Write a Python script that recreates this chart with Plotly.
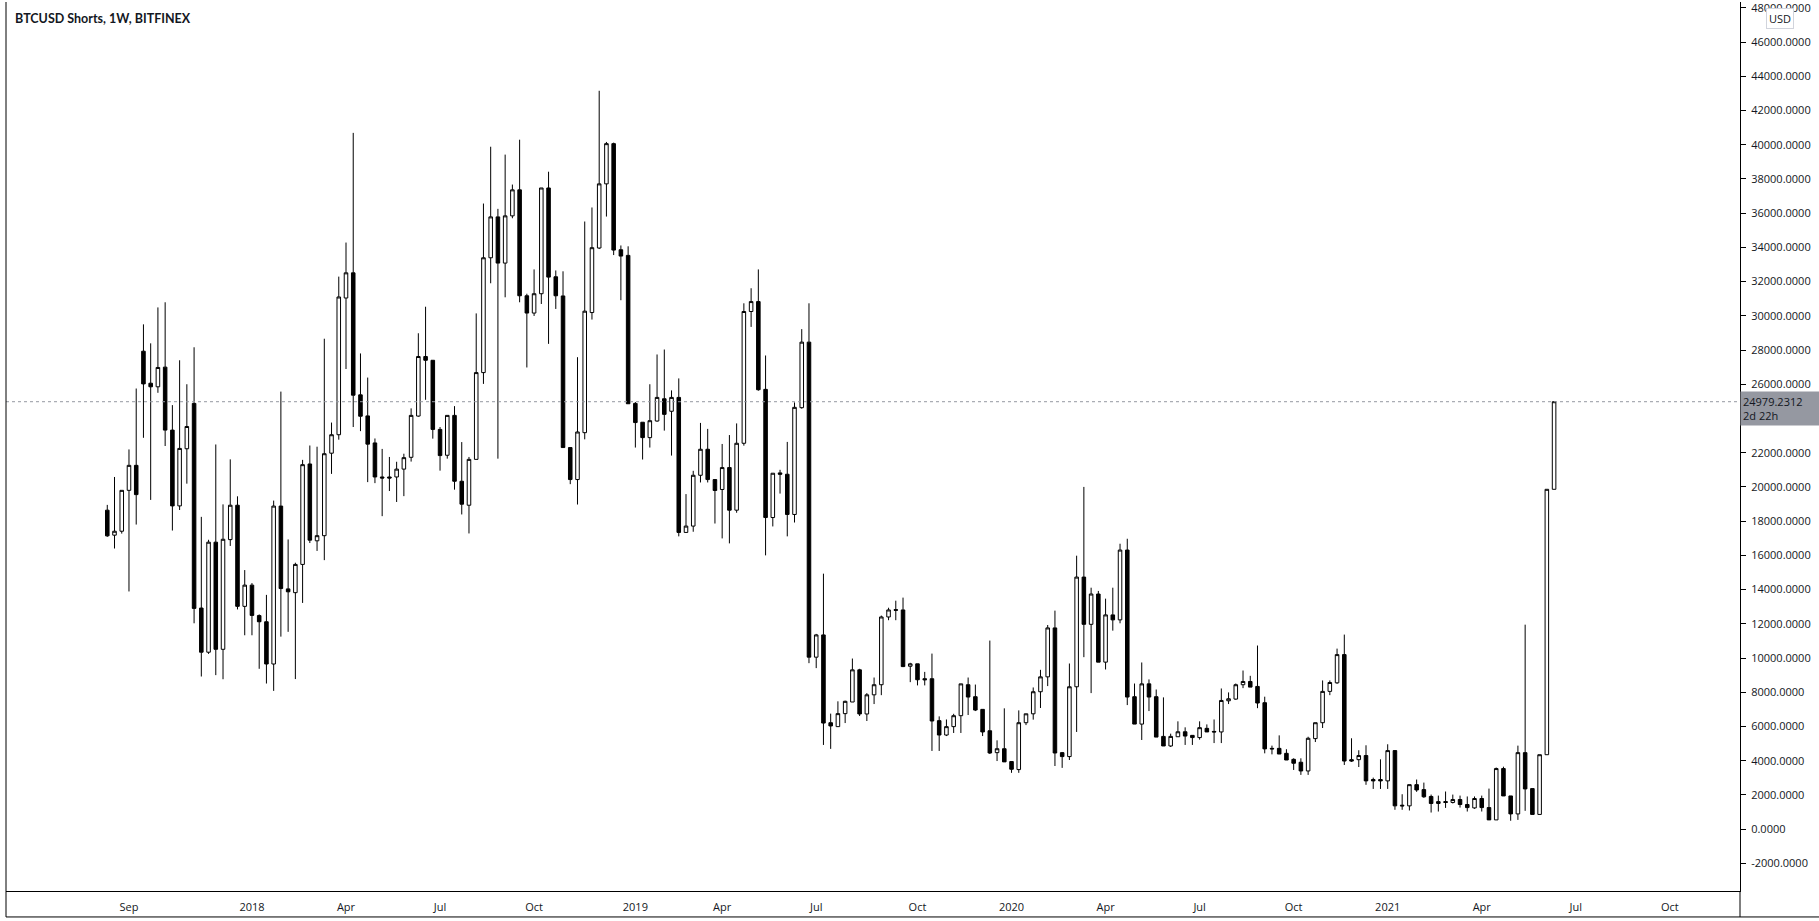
import plotly.graph_objects as go
import pandas as pd

# Weekly OHLC of BTCUSD shorts (values in thousands)
open_k = [18.64, 17.18, 17.41, 19.80, 21.26, 27.93, 26.06, 25.85, 27.00, 23.32,
          18.89, 22.23, 24.88, 12.92, 10.34, 16.77, 10.51, 16.92, 18.93, 13.02,
          14.26, 12.48, 12.12, 9.65, 18.88, 14.04, 13.82, 15.47, 21.34, 16.85,
          17.15, 21.97, 23.05, 31.04, 32.51, 25.38, 24.15, 22.57, 20.58, 20.58,
          20.58, 21.04, 21.73, 24.14, 27.62, 27.40, 23.36, 21.85, 24.18, 20.33,
          18.93, 21.61, 26.68, 33.39, 35.78, 33.08, 35.84, 37.36, 31.17, 30.16,
          31.29, 37.47, 32.28, 31.16, 22.30, 20.43, 23.17, 30.19, 33.96, 37.71,
          40.06, 33.86, 33.53, 24.88, 23.78, 22.88, 23.85, 25.15, 24.42, 25.23,
          17.34, 17.71, 20.68, 22.20, 20.43, 19.85, 21.13, 18.64, 22.55, 30.25,
          30.83, 25.70, 18.21, 20.82, 20.74, 18.39, 24.63, 28.46, 10.05, 11.35,
          6.22, 5.99, 6.75, 7.43, 9.31, 6.73, 7.85, 8.44, 12.40, 12.83,
          12.81, 9.52, 9.66, 8.79, 8.79, 6.34, 5.50, 5.99, 6.63, 8.44,
          7.74, 7.00, 5.75, 4.47, 4.70, 3.95, 3.48, 6.22, 6.74, 8.03,
          8.90, 11.76, 4.47, 4.24, 8.32, 14.73, 11.97, 13.74, 9.76, 12.52,
          12.23, 16.31, 7.74, 6.14, 8.49, 7.74, 5.42, 4.86, 5.40, 5.69,
          5.48, 5.35, 5.89, 5.71, 5.68, 7.50, 7.60, 8.44, 8.63, 8.34,
          7.39, 4.72, 4.72, 4.43, 4.08, 3.91, 3.40, 5.29, 6.22, 8.05,
          8.55, 10.20, 4.06, 4.06, 4.30, 2.90, 2.90, 2.82, 4.59, 1.40,
          1.36, 2.60, 2.31, 1.91, 1.50, 1.61, 1.56, 1.73, 1.44, 1.24,
          1.79, 1.26, 0.54, 3.54, 1.94, 0.89, 4.47, 2.37, 0.86, 4.35,
          19.86]
high_k = [18.95, 20.58, 19.80, 22.19, 25.75, 29.50, 28.39, 30.49, 30.79, 24.78,
          27.40, 26.00, 28.16, 18.25, 16.91, 22.48, 18.98, 21.61, 19.45, 15.14,
          14.38, 12.55, 13.69, 19.20, 25.57, 16.93, 15.57, 21.58, 22.42, 22.35,
          28.66, 23.76, 32.29, 34.28, 40.69, 27.80, 26.39, 22.83, 22.22, 21.75,
          21.47, 21.94, 24.59, 28.98, 30.53, 27.40, 23.50, 24.18, 24.72, 22.62,
          21.75, 30.14, 36.56, 39.88, 36.25, 39.42, 37.67, 40.29, 31.29, 32.71,
          37.47, 38.42, 32.65, 32.60, 22.30, 27.58, 35.51, 36.33, 43.15, 40.16,
          40.12, 34.11, 34.06, 24.96, 23.78, 26.00, 27.74, 28.03, 25.64, 26.34,
          19.58, 20.94, 23.74, 23.39, 20.43, 22.51, 23.03, 23.71, 30.73, 31.61,
          32.71, 27.68, 20.80, 21.00, 22.63, 24.94, 29.22, 30.73, 11.41, 14.93,
          6.75, 7.47, 7.51, 9.97, 9.37, 7.95, 8.86, 12.48, 12.94, 13.35,
          13.53, 9.72, 9.66, 9.19, 10.26, 6.59, 6.41, 6.74, 8.49, 8.86,
          8.45, 7.00, 11.02, 5.19, 7.06, 3.95, 6.94, 6.74, 8.28, 9.31,
          11.93, 12.77, 4.51, 9.68, 15.98, 20.00, 14.11, 13.92, 13.47, 14.11,
          16.68, 16.97, 8.51, 9.74, 8.75, 8.16, 7.70, 5.58, 6.30, 5.95,
          5.48, 6.30, 6.12, 6.41, 8.22, 7.99, 8.51, 9.27, 8.96, 10.73,
          7.74, 4.88, 5.48, 4.67, 4.14, 4.14, 5.40, 6.22, 8.69, 8.69,
          10.55, 11.37, 5.31, 4.61, 4.90, 3.01, 4.08, 4.96, 4.59, 2.04,
          2.60, 2.90, 2.72, 2.02, 1.96, 2.20, 2.02, 1.96, 1.91, 1.91,
          1.96, 2.37, 3.60, 3.65, 1.94, 4.88, 11.95, 2.37, 4.35, 19.86,
          24.98]
low_k = [17.08, 16.40, 17.27, 13.89, 17.80, 22.87, 19.24, 25.50, 22.39, 17.45,
         18.65, 20.19, 12.03, 8.92, 10.24, 9.00, 8.76, 16.55, 12.84, 11.33,
         11.33, 9.37, 8.51, 8.08, 11.25, 11.53, 8.77, 13.22, 16.72, 16.26,
         15.72, 20.76, 22.76, 26.89, 23.50, 23.26, 20.28, 20.22, 18.29, 19.76,
         19.12, 19.46, 21.48, 24.10, 25.09, 22.82, 20.95, 21.65, 19.84, 18.39,
         17.28, 21.61, 26.02, 31.90, 21.65, 31.08, 35.70, 30.79, 26.98, 29.99,
         30.69, 28.36, 30.40, 22.30, 20.16, 18.97, 22.78, 29.78, 33.90, 35.80,
         33.55, 30.91, 24.86, 22.30, 21.60, 22.30, 23.81, 23.29, 21.83, 17.11,
         17.34, 17.38, 20.26, 20.26, 17.86, 16.99, 16.70, 18.49, 22.41, 29.35,
         25.62, 16.00, 17.69, 19.61, 17.11, 17.92, 24.57, 9.70, 9.41, 4.92,
         4.69, 5.99, 6.20, 7.43, 6.61, 6.32, 7.31, 7.83, 12.21, 12.21,
         9.47, 8.59, 8.40, 8.40, 4.57, 4.57, 5.44, 5.62, 5.62, 6.67,
         6.90, 5.44, 4.39, 3.98, 3.93, 3.29, 3.29, 6.08, 6.40, 7.08,
         8.36, 3.69, 3.58, 4.04, 5.68, 10.05, 7.95, 9.76, 9.33, 11.60,
         12.03, 7.25, 6.14, 5.21, 6.90, 5.38, 4.86, 4.80, 5.40, 4.92,
         4.92, 5.23, 5.68, 5.03, 5.03, 7.31, 7.56, 8.24, 8.30, 7.07,
         4.43, 4.37, 4.39, 4.04, 3.46, 3.17, 3.17, 5.09, 5.91, 7.83,
         8.49, 3.75, 3.93, 3.63, 2.59, 2.35, 2.35, 2.35, 1.13, 1.13,
         1.09, 2.18, 1.83, 0.97, 1.03, 1.24, 1.50, 1.26, 1.03, 1.19,
         1.03, 0.54, 0.54, 1.94, 0.49, 0.54, 1.07, 0.86, 0.86, 4.35,
         19.86]
close_k = [17.14, 17.41, 19.80, 21.26, 19.55, 26.02, 25.85, 26.98, 23.32, 18.89,
           22.25, 23.53, 12.90, 10.34, 16.77, 10.51, 16.94, 18.93, 13.02, 14.26,
           12.49, 12.12, 9.65, 18.88, 14.06, 13.87, 15.47, 21.30, 16.89, 17.15,
           21.94, 23.05, 31.10, 32.51, 25.36, 24.13, 22.50, 20.58, 20.52, 20.52,
           21.04, 21.71, 24.18, 27.62, 27.40, 23.36, 21.83, 24.18, 20.33, 18.99,
           21.61, 26.68, 33.39, 35.78, 33.08, 35.84, 37.36, 31.17, 30.16, 31.29,
           37.47, 32.26, 31.17, 22.30, 20.43, 23.21, 30.27, 33.98, 37.71, 40.06,
           33.84, 33.49, 24.86, 23.76, 22.88, 23.87, 25.23, 24.24, 25.23, 17.34,
           17.71, 20.68, 22.20, 20.43, 19.79, 21.13, 18.64, 22.55, 30.25, 30.83,
           25.68, 18.21, 20.80, 20.74, 18.39, 24.65, 28.46, 10.05, 11.35, 6.20,
           6.03, 6.75, 7.47, 9.31, 6.73, 7.85, 8.44, 12.40, 12.81, 12.79,
           9.50, 9.66, 8.73, 8.73, 6.32, 5.50, 5.99, 6.63, 8.49, 7.72,
           6.96, 5.68, 4.45, 4.70, 3.93, 3.50, 6.22, 6.74, 8.03, 8.90,
           11.76, 4.45, 4.24, 8.32, 14.73, 11.97, 13.74, 9.76, 12.52, 12.23,
           16.31, 7.72, 6.14, 8.49, 7.72, 5.38, 4.86, 5.42, 5.69, 5.44,
           5.35, 5.93, 5.68, 5.68, 7.52, 7.62, 8.44, 8.63, 8.30, 7.37,
           4.69, 4.69, 4.39, 4.04, 3.85, 3.40, 5.31, 6.22, 8.05, 8.57,
           10.20, 3.98, 3.98, 4.30, 2.82, 2.82, 2.82, 4.59, 1.36, 1.36,
           2.60, 2.29, 1.89, 1.50, 1.61, 1.56, 1.73, 1.44, 1.26, 1.79,
           1.26, 0.54, 3.54, 1.94, 0.89, 4.47, 2.35, 0.86, 4.35, 19.86,
           24.9792312]

first_week = "2017-08-14"
last_price = 24979.2312
countdown = "2d 22h"
title_text = "BTCUSD Shorts, 1W, BITFINEX"

x_tick_months = ["2017-09", "2018-01", "2018-04", "2018-07", "2018-10", "2019-01",
                 "2019-04", "2019-07", "2019-10", "2020-01", "2020-04", "2020-07",
                 "2020-10", "2021-01", "2021-04", "2021-07", "2021-10"]
x_tick_labels = ["Sep", "2018", "Apr", "Jul", "Oct", "2019", "Apr", "Jul", "Oct",
                 "2020", "Apr", "Jul", "Oct", "2021", "Apr", "Jul", "Oct"]
# 24000 is hidden behind the last-price label in the original
y_tick_values = [v for v in range(-2000, 48001, 2000) if v != 24000]
y_tick_labels = [f"{v:.4f}" for v in y_tick_values]

dates = pd.date_range(first_week, periods=len(open_k), freq="7D")
all_weeks = pd.date_range(first_week, periods=len(open_k) + 40, freq="7D")
tickvals = [all_weeks[all_weeks >= pd.Timestamp(m + "-01")][0] for m in x_tick_months]

week = pd.Timedelta(days=7)
x_range = [dates[0] - 14.0 * week, dates[0] + 225.7 * week]

fig = go.Figure(go.Candlestick(
    x=dates,
    open=[v * 1000 for v in open_k],
    high=[v * 1000 for v in high_k],
    low=[v * 1000 for v in low_k],
    close=[v * 1000 for v in close_k],
    increasing=dict(fillcolor="#ffffff", line=dict(color="#000000", width=1)),
    decreasing=dict(fillcolor="#000000", line=dict(color="#000000", width=1)),
    whiskerwidth=0,
    hoverinfo="skip",
    showlegend=False,
))

axis_font = dict(family="Open Sans, sans-serif", size=11, color="#131722")

fig.update_layout(
    width=1819, height=921,
    margin=dict(l=6, r=79, t=0, b=30),
    paper_bgcolor="#ffffff", plot_bgcolor="#ffffff",
    boxgap=0.3,
    xaxis=dict(
        type="date", range=x_range, rangeslider=dict(visible=False),
        tickvals=tickvals, ticktext=x_tick_labels, tickfont=axis_font,
        showgrid=False, zeroline=False, showline=True, linecolor="#000000", linewidth=1,
        ticks="", ticklabelstandoff=6,
    ),
    yaxis=dict(
        side="right", range=[-3615, 48338],
        tickvals=y_tick_values, ticktext=y_tick_labels, tickfont=axis_font,
        showgrid=False, zeroline=False, showline=True, linecolor="#000000", linewidth=1,
        ticks="outside", ticklen=5, tickcolor="#000000", ticklabelstandoff=3,
        ticklabeloverflow="allow",
    ),
    font=axis_font,
)

# last price dotted line
fig.add_shape(type="line", xref="paper", x0=0, x1=1, yref="y", y0=last_price, y1=last_price,
              line=dict(color="#9598a1", width=1, dash="dot"))
# borders of the chart container
fig.add_shape(type="line", xref="paper", yref="paper", x0=0, x1=0, y0=-0.0292, y1=1,
              line=dict(color="#000000", width=1))
fig.add_shape(type="line", xref="paper", yref="paper", x0=0, x1=1.0456, y0=-0.0292, y1=-0.0292,
              line=dict(color="#000000", width=1))
fig.add_shape(type="line", xref="paper", yref="paper", x0=1, x1=1, y0=-0.0292, y1=0,
              line=dict(color="#000000", width=1))

# price label on axis
fig.add_annotation(xref="paper", x=1, xanchor="left", yref="y", y=last_price, yanchor="top",
                   yshift=11, text=f"{last_price:.4f}<br>{countdown}", align="left",
                   showarrow=False, bgcolor="#9598a1", borderpad=2, width=74,
                   font=dict(family="Open Sans, sans-serif", size=11, color="#131722"))
# currency badge
fig.add_annotation(xref="paper", x=1.0231, xanchor="center", yref="paper", y=0.982,
                   yanchor="middle", text="USD", showarrow=False,
                   bgcolor="#ffffff", bordercolor="#d1d4dc", borderwidth=1, borderpad=2,
                   font=dict(family="Open Sans, sans-serif", size=11, color="#131722"))
# title
fig.add_annotation(xref="paper", x=0.004, xanchor="left", yref="paper", y=0.982, yanchor="middle",
                   text=f"<b>{title_text}</b>", showarrow=False,
                   font=dict(family="Lato, sans-serif", size=12.5, color="#131722"))

fig.write_html("out.html", config={"displayModeBar": False},
               post_script="document.body.style.margin='0';")
